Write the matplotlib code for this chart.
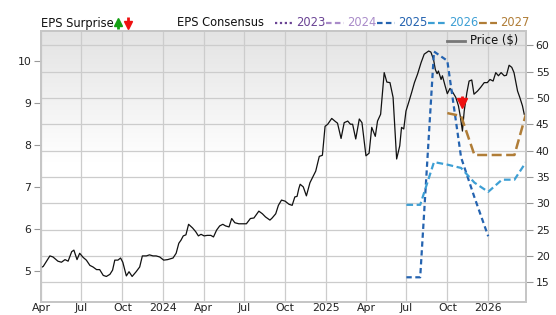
import matplotlib
matplotlib.use('Agg')
import matplotlib.pyplot as plt
from matplotlib.lines import Line2D
import numpy as np
import pandas as pd

# weekly-ish closing price
price_dates = [
    '2023-04-01', '2023-04-06', '2023-04-21', '2023-04-28', '2023-05-09', '2023-05-17',
    '2023-05-25', '2023-06-01', '2023-06-09', '2023-06-14', '2023-06-21', '2023-06-27',
    '2023-07-05', '2023-07-12', '2023-07-20', '2023-07-27', '2023-08-04', '2023-08-11',
    '2023-08-19', '2023-08-26', '2023-09-03', '2023-09-09', '2023-09-14', '2023-09-21',
    '2023-09-27', '2023-10-02', '2023-10-10', '2023-10-16', '2023-10-23', '2023-11-01',
    '2023-11-09', '2023-11-15', '2023-11-24', '2023-12-01', '2023-12-09', '2023-12-16',
    '2023-12-24', '2024-01-02', '2024-01-11', '2024-01-23', '2024-01-30', '2024-02-05',
    '2024-02-10', '2024-02-15', '2024-02-21', '2024-02-27', '2024-03-07', '2024-03-14',
    '2024-03-20', '2024-03-26', '2024-04-02', '2024-04-09', '2024-04-17', '2024-04-23',
    '2024-04-30', '2024-05-07', '2024-05-14', '2024-05-20', '2024-05-28', '2024-06-03',
    '2024-06-10', '2024-06-19', '2024-06-27', '2024-07-06', '2024-07-15', '2024-07-23',
    '2024-08-03', '2024-08-11', '2024-08-18', '2024-08-28', '2024-09-02', '2024-09-10',
    '2024-09-16', '2024-09-23', '2024-10-01', '2024-10-10', '2024-10-17', '2024-10-23',
    '2024-10-28', '2024-11-01', '2024-11-04', '2024-11-11', '2024-11-18', '2024-11-26',
    '2024-12-03', '2024-12-09', '2024-12-17', '2024-12-24', '2024-12-30', '2025-01-05',
    '2025-01-14', '2025-01-21', '2025-01-27', '2025-02-04', '2025-02-11', '2025-02-19',
    '2025-02-25', '2025-03-02', '2025-03-09', '2025-03-17', '2025-03-23', '2025-04-01',
    '2025-04-08', '2025-04-14', '2025-04-22', '2025-04-27', '2025-05-04', '2025-05-12',
    '2025-05-18', '2025-05-25', '2025-06-01', '2025-06-09', '2025-06-16', '2025-06-20',
    '2025-06-25', '2025-06-30', '2025-07-07', '2025-07-13', '2025-07-19', '2025-07-26',
    '2025-08-03', '2025-08-10', '2025-08-20', '2025-08-25', '2025-08-31', '2025-09-04',
    '2025-09-08', '2025-09-11', '2025-09-17', '2025-09-20', '2025-09-26', '2025-10-01',
    '2025-10-07', '2025-10-13', '2025-10-20', '2025-10-26', '2025-10-30', '2025-11-04',
    '2025-11-08', '2025-11-14', '2025-11-19', '2025-11-25', '2025-11-30', '2025-12-08',
    '2025-12-15', '2025-12-23', '2025-12-30', '2026-01-05', '2026-01-12', '2026-01-18',
    '2026-01-24', '2026-01-30', '2026-02-06', '2026-02-11', '2026-02-17', '2026-02-23',
    '2026-02-28', '2026-03-08', '2026-03-13', '2026-03-19', '2026-03-23',
]
price_vals = [
    17.8, 18.0, 20.0, 19.8, 19.0, 18.8,
    19.3, 19.0, 20.8, 21.1, 19.3, 20.5,
    19.7, 19.2, 18.2, 17.9, 17.4, 17.4,
    16.3, 16.1, 16.5, 17.3, 19.2, 19.2,
    19.6, 18.8, 16.2, 17.0, 16.1, 17.0,
    17.9, 20.0, 20.0, 20.2, 20.0, 20.0,
    19.8, 19.2, 19.3, 19.6, 20.5, 22.4,
    23.0, 23.8, 24.0, 26.0, 25.3, 24.6,
    23.8, 24.1, 23.8, 23.9, 23.9, 23.6,
    24.9, 25.7, 26.0, 25.7, 25.5, 27.1,
    26.3, 26.1, 26.1, 26.1, 27.1, 27.2,
    28.5, 28.0, 27.4, 26.8, 27.2, 28.0,
    29.6, 30.6, 30.4, 29.8, 29.6, 31.2,
    31.3, 32.8, 33.6, 33.1, 31.4, 33.9,
    35.1, 36.1, 38.9, 39.1, 44.6, 45.0,
    46.1, 45.6, 45.2, 42.3, 45.3, 45.6,
    45.0, 45.0, 42.2, 46.0, 45.3, 39.0,
    39.5, 44.4, 42.7, 45.6, 46.9, 54.8,
    53.0, 52.9, 50.1, 38.4, 40.9, 44.4,
    44.1, 47.5, 49.4, 51.1, 52.9, 54.5,
    56.7, 58.3, 58.9, 58.7, 57.3, 55.4,
    54.6, 55.1, 53.5, 54.2, 52.3, 50.8,
    51.8, 51.1, 50.1, 48.5, 46.6, 43.7,
    47.5, 51.0, 53.2, 53.4, 50.7, 51.3,
    52.0, 52.9, 52.9, 53.5, 53.2, 54.8,
    54.2, 54.8, 54.2, 54.3, 56.2, 55.8,
    54.8, 51.3, 50.1, 48.5, 46.9,
]

# EPS consensus by fiscal year
eps25_dates = ['2025-07-01', '2025-08-01', '2025-09-01', '2025-10-01', '2025-11-01',
               '2025-12-01', '2026-01-01']
eps25_vals = [4.84, 4.84, 10.23, 10.01, 7.70, 6.75, 5.82]
eps26_dates = ['2025-07-01', '2025-08-01', '2025-09-01', '2025-10-01', '2025-11-01',
               '2025-12-01', '2026-01-01', '2026-02-01', '2026-03-01', '2026-03-27']
eps26_vals = [6.57, 6.57, 7.59, 7.53, 7.45, 7.10, 6.88, 7.17, 7.17, 7.59]
eps27_dates = ['2025-10-01', '2025-11-01', '2025-12-01', '2026-01-01', '2026-02-01',
               '2026-03-01', '2026-03-27']
eps27_vals = [8.76, 8.69, 7.76, 7.76, 7.76, 7.76, 8.74]

# EPS surprise (negative) marker, drawn on the price scale
surprise_date = '2025-11-04'
surprise_top, surprise_bot = 50.4, 49.0

legend_years = ['2023', '2024', '2025', '2026', '2027']
c23, c24, c25, c26, c27 = '#6a4394', '#a98bc9', '#2463b0', '#3d9fd4', '#b07d37'
year_colors = [c23, c24, c25, c26, c27]

W, H = 556, 315
fig = plt.figure(figsize=(W / 100, H / 100), dpi=100)
pos = [41 / W, 1 - 302 / H, (526 - 41) / W, (302 - 31) / H]

# gradient background
bg = fig.add_axes(pos, zorder=-1)
grad = np.linspace(0, 1, 256).reshape(-1, 1)
bg.imshow(grad, extent=[0, 1, 0, 1], aspect='auto', origin='lower',
          cmap=matplotlib.colors.LinearSegmentedColormap.from_list(
              'g', [(0, '#ffffff'), (0.52, '#ffffff'), (1, '#e3e3e3')]))
bg.axis('off')

ax = fig.add_axes(pos)   # price (right axis)
ax.patch.set_visible(False)
ax2 = ax.twinx()         # EPS (left axis)

pdates = pd.to_datetime(price_dates)
ax.plot(pdates, price_vals, color='#111111', lw=0.9, zorder=3)
ax.set_ylim(11.25, 62.7)
ax.set_yticks(range(15, 61, 5))
ax.set_xlim(pd.Timestamp('2023-04-01'), pd.Timestamp('2026-03-27'))

sd = pd.Timestamp(surprise_date)
ax.plot([sd, sd], [surprise_top, surprise_bot], color='#ee1111', lw=2.0, zorder=5,
        solid_capstyle='butt')
ax.plot([sd], [surprise_bot], marker='v', ms=6.5, color='#ee1111', mec='#ee1111', zorder=5)

ax2.plot(pd.to_datetime(eps25_dates), eps25_vals, color=c25, lw=1.6, dashes=(2.4, 1.6))
ax2.plot(pd.to_datetime(eps26_dates), eps26_vals, color=c26, lw=1.6, dashes=(3.0, 1.6))
ax2.plot(pd.to_datetime(eps27_dates), eps27_vals, color=c27, lw=1.8, dashes=(4.0, 1.8))
ax2.set_ylim(4.25, 10.72)
ax2.set_yticks(range(5, 11))

# axis sides: EPS on the left, price on the right
ax2.yaxis.tick_left()
ax.yaxis.tick_right()

xt = pd.date_range('2023-04-01', '2026-01-01', freq='QS')
ax.set_xticks(xt)
ax.set_xticklabels([d.strftime('%Y') if d.month == 1 else d.strftime('%b') for d in xt])
ax.grid(True, color='#cccccc', lw=0.9)
ax.set_axisbelow(True)

for a in (ax, ax2):
    for s in a.spines.values():
        s.set_color('#c6c6c6')
        s.set_linewidth(1.3)
ax.tick_params(axis='x', length=0, pad=1, labelsize=7.8, colors='#222222')
ax.tick_params(axis='y', length=5, width=0.8, color='#999999', labelsize=7.8,
               labelcolor='#222222', pad=2)
ax2.tick_params(axis='y', length=5, width=0.8, color='#999999', labelsize=7.8,
                labelcolor='#222222', pad=2)

# header legend
def fx(x):
    return x / W

def fy(y):
    return 1 - y / H

hy = 23
fs = 8.3
fig.text(fx(41), fy(hy), 'EPS Surprise', fontsize=fs, va='center', color='#111111')
# green up / red down arrows
for x0, up, col in ((118, True, '#14a014'), (128, False, '#ee1111')):
    if up:
        shaft, tip, mk = (29, 24), 21.5, '^'
    else:
        shaft, tip, mk = (17, 22), 24.5, 'v'
    fig.add_artist(Line2D([fx(x0), fx(x0)], [fy(shaft[0]), fy(shaft[1])], color=col, lw=2.0,
                          solid_capstyle='butt', transform=fig.transFigure))
    fig.add_artist(Line2D([fx(x0)], [fy(tip)], marker=mk, ms=6, color=col, mec=col,
                          transform=fig.transFigure))
fig.text(fx(177), fy(hy), 'EPS Consensus', fontsize=fs, va='center', color='#111111')
seg_x = [275, 326, 377, 428, 479]
styles = [(1, 1.2), (2.5, 1.5), (2.5, 1.5), (3.0, 1.5), (3.5, 1.5)]
for sx, yr, col, ds in zip(seg_x, legend_years, year_colors, styles):
    fig.add_artist(Line2D([fx(sx), fx(sx + 18)], [fy(hy), fy(hy)], color=col, lw=1.6,
                          dashes=ds, transform=fig.transFigure))
    fig.text(fx(sx + 21), fy(hy), yr, fontsize=fs, va='center', color=col)

fig.add_artist(Line2D([fx(447), fx(465)], [fy(41), fy(41)], color='#777777', lw=2.0,
                      transform=fig.transFigure))
fig.text(fx(470), fy(41), 'Price ($)', fontsize=fs, va='center', color='#111111')

fig.savefig('out.png', dpi=100)
